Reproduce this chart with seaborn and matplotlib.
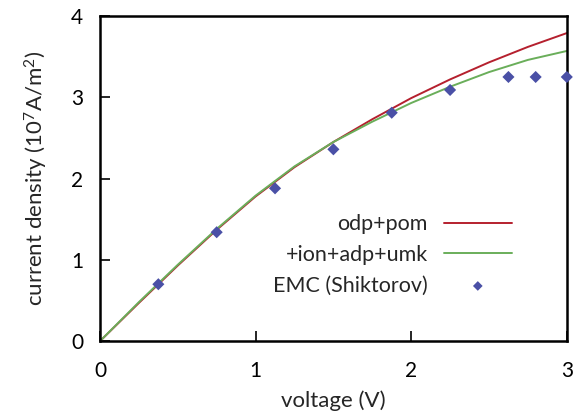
import matplotlib
matplotlib.use('Agg')
import matplotlib.pyplot as plt
import seaborn as sns
import pandas as pd

# simulated curves
voltage = [0.0, 0.25, 0.5, 0.75, 1.0, 1.25, 1.5, 1.75, 2.0, 2.25, 2.5, 2.75, 3.0]
odp_pom = [0.0, 0.47, 0.93, 1.37, 1.78, 2.14, 2.45, 2.73, 2.99, 3.22, 3.43, 3.62, 3.79]
ion_adp_umk = [0.0, 0.48, 0.94, 1.38, 1.79, 2.15, 2.45, 2.70, 2.93, 3.13, 3.31, 3.46, 3.57]

# EMC reference points
emc_v = [0.375, 0.75, 1.125, 1.5, 1.875, 2.25, 2.625, 2.8, 3.0]
emc_j = [0.70, 1.34, 1.88, 2.36, 2.81, 3.09, 3.25, 3.25, 3.25]

sns.set_theme(style="ticks")
plt.rcParams['font.family'] = ['Lato', 'DejaVu Sans']
plt.rcParams['mathtext.default'] = 'regular'

fig = plt.figure(figsize=(5.76, 4.15), dpi=100)
ax = fig.add_axes([0.1736, 0.178, 0.8104, 0.7834])

sns.lineplot(x=voltage, y=odp_pom, ax=ax, color='#b5202e', lw=1.4, label='odp+pom')
sns.lineplot(x=voltage, y=ion_adp_umk, ax=ax, color='#6aae5a', lw=1.4, label='+ion+adp+umk')
sns.scatterplot(x=emc_v, y=emc_j, ax=ax, marker='D', s=38, color='#4a50a6',
                edgecolor='none', label='EMC (Shiktorov)', zorder=3, clip_on=False)

ax.set_xlim(0, 3)
ax.set_ylim(0, 4)
ax.set_xticks([0, 1, 2, 3])
ax.set_yticks([0, 1, 2, 3, 4])
ax.tick_params(direction='in', length=7, width=1.2, labelsize=15, colors='black')
ax.tick_params(axis='x', pad=14)
ax.tick_params(axis='y', pad=12)
for s in ax.spines.values():
    s.set_visible(True)
    s.set_linewidth(1.8)
    s.set_color('black')

ax.set_xlabel('voltage (V)', fontsize=16, labelpad=7)
ax.set_ylabel('current density (10$^7$A/m$^2$)', fontsize=16, labelpad=15)

leg = ax.legend(loc='lower right', bbox_to_anchor=(0.882, 0.14), frameon=False,
                markerfirst=False, fontsize=15.5, handlelength=3.15, handletextpad=0.75,
                labelspacing=0.5, borderpad=0, borderaxespad=0, markerscale=0.8)

plt.savefig('out.png', dpi=100)
